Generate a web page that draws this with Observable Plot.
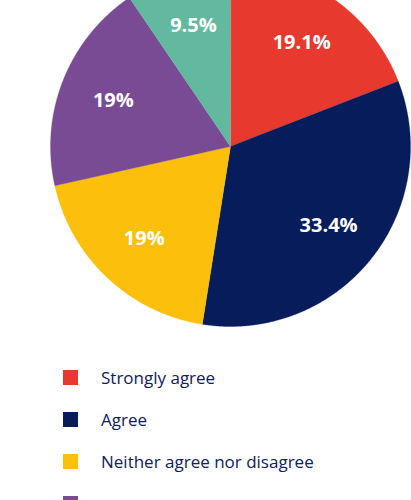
<!DOCTYPE html>
<html>
<head>
<meta charset="utf-8">
<script src="https://cdn.jsdelivr.net/npm/d3@7"></script>
<script src="https://cdn.jsdelivr.net/npm/@observablehq/plot@0.6"></script>
<style>
  html, body { margin: 0; padding: 0; background: #fff; overflow: hidden; }
  #chart svg { display: block; overflow: visible; }
  .legend { margin: 0; padding: 0; font-family: "Open Sans", sans-serif; font-size: 17px; color: #0e2160; }
  .legend .row { height: 42px; display: flex; align-items: center; }
  .legend .sw { width: 15px; height: 15px; margin-left: 63px; margin-right: 23px; flex: none; }
  .legend .hidden { visibility: hidden; }
</style>
</head>
<body>
<div id="chart"></div>
<div class="legend" id="legend"></div>
<script>
const categories = ["Strongly agree", "Agree", "Neither agree nor disagree", "Disagree", "Strongly disagree"];
const values = [19.1, 33.4, 19, 19, 9.5];
const labels = ["19.1%", "33.4%", "19%", "19%", "9.5%"];
const colors = ["#e8392f", "#061c5b", "#fbbf0c", "#794b95", "#62b9a0"];

const arcs = d3.pie().sort(null).value(d => d)(values);

// slice outlines in unit-circle coordinates (angle 0 = top, clockwise)
const slicePts = [];
arcs.forEach((a, i) => {
  const n = Math.max(8, Math.ceil((a.endAngle - a.startAngle) / 0.005));
  slicePts.push({cat: categories[i], x: 0, y: 0});
  for (let k = 0; k <= n; k++) {
    const t = a.startAngle + (a.endAngle - a.startAngle) * k / n;
    slicePts.push({cat: categories[i], x: Math.sin(t), y: Math.cos(t)});
  }
});
const labelR = 0.7;
const labelPts = arcs.map((a, i) => {
  const m = (a.startAngle + a.endAngle) / 2;
  return {text: labels[i], x: labelR * Math.sin(m), y: labelR * Math.cos(m)};
});

const chart = Plot.plot({
  width: 411,
  height: 356,
  marginTop: 0, marginBottom: 0, marginLeft: 0, marginRight: 0,
  x: {domain: [-1, 1], range: [50, 410], axis: null},
  y: {domain: [-1, 1], range: [326, -34], axis: null},
  color: {domain: categories, range: colors},
  style: {background: "transparent", overflow: "visible"},
  marks: [
    Plot.line(slicePts, {x: "x", y: "y", z: "cat", fill: "cat", stroke: "cat", strokeWidth: 0.3, curve: "linear-closed"}),
    Plot.text(labelPts, {x: "x", y: "y", text: "text", fill: "white", fontSize: 20, fontWeight: 700, fontFamily: "Open Sans, sans-serif"})
  ]
});
document.getElementById("chart").appendChild(chart);

// rows past the bottom edge show only their swatch, as in the reference
const legend = document.getElementById("legend");
categories.forEach((c, i) => {
  const row = document.createElement("div");
  row.className = "row";
  const sw = document.createElement("span");
  sw.className = "sw";
  sw.style.background = colors[i];
  const tx = document.createElement("span");
  tx.textContent = c;
  if (i >= 3) tx.className = "hidden";
  row.appendChild(sw);
  row.appendChild(tx);
  legend.appendChild(row);
});
</script>
</body>
</html>
